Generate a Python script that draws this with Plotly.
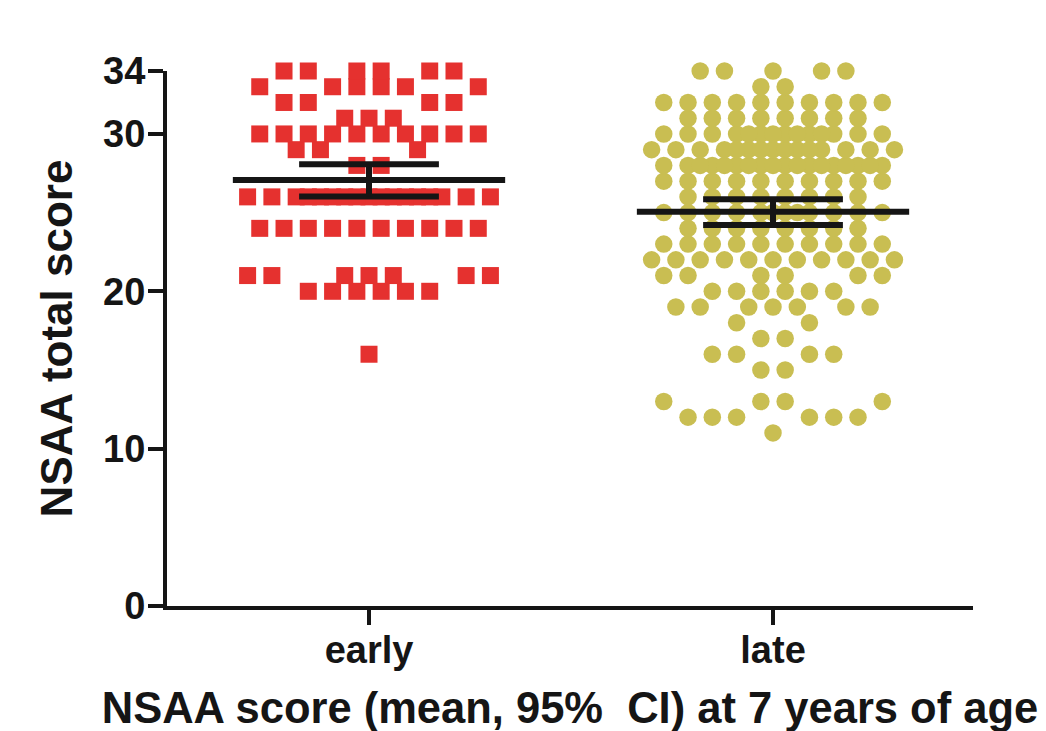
import plotly.graph_objects as go

# ---------------- data ----------------
groups = ["early", "late"]

early_scores = [34, 33, 32, 31, 30, 29, 28, 26, 24, 21, 20, 16]
early_counts = [6, 6, 4, 3, 10, 3, 2, 17, 10, 7, 6, 1]

late_scores = [34, 33, 32, 31, 30, 29, 28, 27, 26, 25, 24, 23, 22, 21, 20, 19, 18, 17, 16, 15, 13, 12, 11]
late_counts = [5, 2, 10, 8, 14, 15, 18, 10, 8, 12, 8, 10, 11, 6, 6, 7, 2, 2, 4, 2, 4, 6, 1]

means = [27.07, 25.05]
ci_low = [26.02, 24.22]
ci_high = [28.08, 25.85]

y_ticks = [0, 10, 20, 30, 34]

# ---------------- styling ----------------
RED = "#E5312F"
OLIVE = "#C9BE52"
BLACK = "#151515"
FONT = "Liberation Sans, Arial, Helvetica, sans-serif"

SLOT = 0.0601        # horizontal spacing of points within a row (x units)
MEAN_HALF = 0.337
CI_HALF = 0.173


def full_row(n):
    """Centred row; overflow points interleaved at the middle half-slots."""
    base = 11 if n % 2 else 10
    if n <= base:
        return [i - (n - 1) / 2 for i in range(n)]
    base_pos = [i - (base - 1) / 2 for i in range(base)]
    mids = [(base_pos[i] + base_pos[i + 1]) / 2 for i in range(base - 1)]
    mids.sort(key=lambda p: (abs(p), -p))
    return base_pos + mids[:n - base]


def swarm(scores, counts):
    """Column-scatter layout, built bottom-up, avoiding the row just below."""
    placed = {}
    for s, n in sorted(zip(scores, counts)):
        base = 11 if n % 2 else 10
        if n >= base:
            offs = full_row(n)
        else:
            cands = [i - (base - 1) / 2 for i in range(base)]
            nb = placed.get(s - 1, []) + placed.get(s + 1, [])

            def cost(p):
                hit = any(abs(p - q) < 0.7 for q in nb)
                return (abs(p) + (4 if hit else 0), abs(p), p)
            offs = sorted(cands, key=cost)[:n]
        placed[s] = offs
    return placed


def expand(center, scores, counts):
    xs, ys = [], []
    for s, offs in swarm(scores, counts).items():
        for o in offs:
            xs.append(center + o * SLOT)
            ys.append(s)
    return xs, ys


fig = go.Figure()

ex, ey = expand(0, early_scores, early_counts)
lx, ly = expand(1, late_scores, late_counts)

fig.add_trace(go.Scatter(
    x=ex, y=ey, mode="markers", cliponaxis=False, showlegend=False, hoverinfo="skip",
    marker=dict(symbol="square", size=17, color=RED, line=dict(width=0))))
fig.add_trace(go.Scatter(
    x=lx, y=ly, mode="markers", cliponaxis=False, showlegend=False, hoverinfo="skip",
    marker=dict(symbol="circle", size=17.5, color=OLIVE, line=dict(width=0))))

# mean and 95% CI
mx, my = [], []
for i, (m, lo, hi) in enumerate(zip(means, ci_low, ci_high)):
    mx += [i - MEAN_HALF, i + MEAN_HALF, None,
           i - CI_HALF, i + CI_HALF, None,
           i - CI_HALF, i + CI_HALF, None,
           i, i, None]
    my += [m, m, None, hi, hi, None, lo, lo, None, lo, hi, None]
fig.add_trace(go.Scatter(
    x=mx, y=my, mode="lines", cliponaxis=False, showlegend=False, hoverinfo="skip",
    line=dict(color=BLACK, width=6)))

fig.update_layout(
    width=1046, height=731,
    margin=dict(l=159, r=81, t=63, b=133),
    paper_bgcolor="white", plot_bgcolor="white",
    font=dict(family=FONT, color=BLACK),
    xaxis=dict(
        range=[-0.5, 1.495], showgrid=False, zeroline=False,
        showline=True, linewidth=4, linecolor=BLACK,
        ticks="outside", ticklen=15, tickwidth=4, tickcolor=BLACK,
        tickvals=[0, 1], ticktext=groups, ticklabelstandoff=-8,
        tickfont=dict(family=FONT, size=38, weight="bold", color=BLACK),
        title=dict(text="NSAA score (mean, 95%  CI) at 7 years of age",
                   font=dict(family=FONT, size=43.5, weight="bold", color=BLACK),
                   standoff=24),
        automargin=False,
    ),
    yaxis=dict(
        range=[0, 34], showgrid=False, zeroline=False,
        showline=True, linewidth=4, linecolor=BLACK,
        ticks="outside", ticklen=15, tickwidth=4, tickcolor=BLACK,
        tickvals=y_ticks, ticklabelstandoff=-5,
        tickfont=dict(family=FONT, size=38, weight="bold", color=BLACK),
        title=dict(text="NSAA total score",
                   font=dict(family=FONT, size=44, weight="bold", color=BLACK),
                   standoff=18),
        automargin=False,
    ),
)

fig.write_html("out.html")
